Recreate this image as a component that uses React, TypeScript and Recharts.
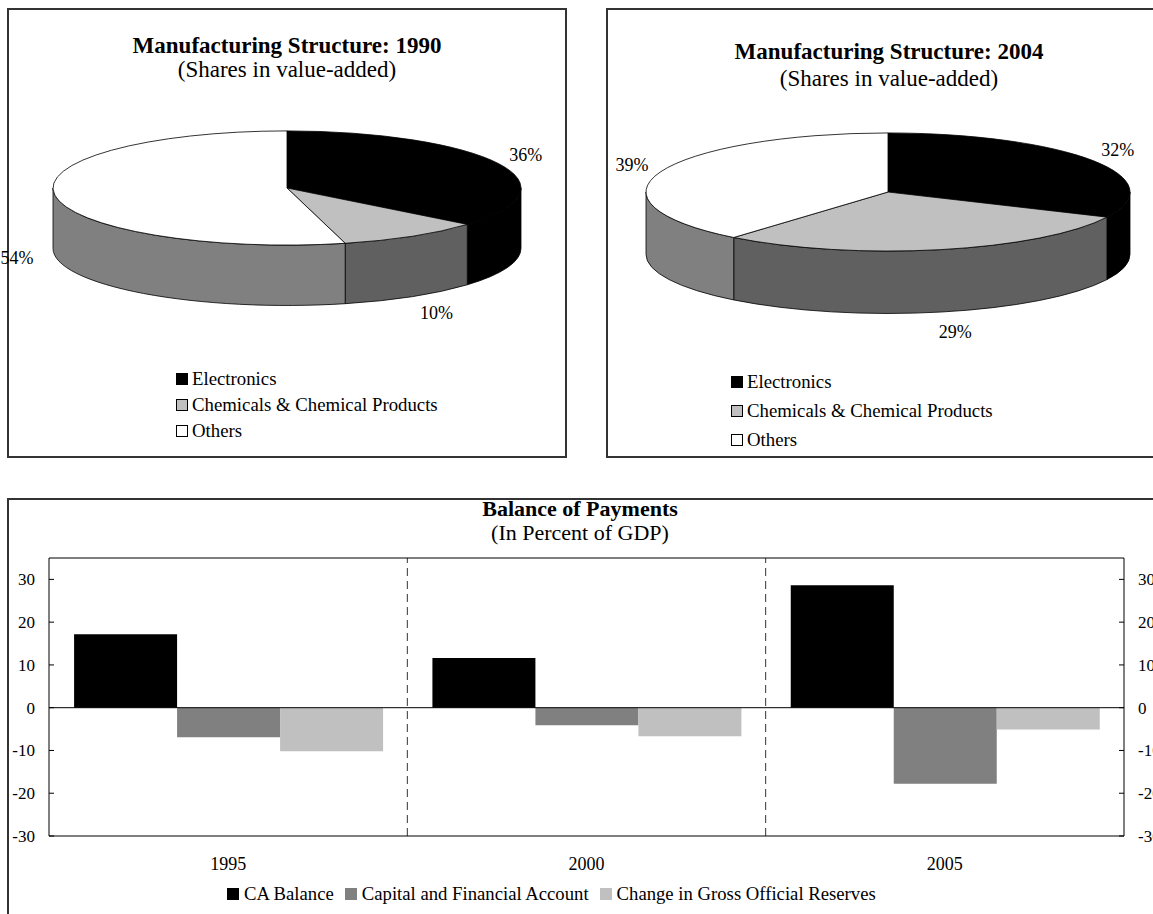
import React from "react";
import { PieChart, Pie, Cell, Legend, BarChart, Bar, XAxis, YAxis, ReferenceLine } from "recharts";

const SERIF = '"Liberation Serif", "Times New Roman", serif';

// manufacturing structure (shares in value-added, %)
const SECTORS = ["Electronics", "Chemicals & Chemical Products", "Others"];
const SHARES_1990 = [36, 10, 54];
const SHARES_2004 = [32, 29, 39];
const TOP_COLORS = ["#000000", "#c0c0c0", "#ffffff"];
const SIDE_COLORS = ["#000000", "#606060", "#808080"];

// balance of payments (% of GDP)
const YEARS = ["1995", "2000", "2005"];
const CA_BALANCE = [17.2, 11.6, 28.6];
const CAPITAL_ACCOUNT = [-6.9, -4.1, -17.8];
const RESERVES_CHANGE = [-10.2, -6.7, -5.1];
const Y_DOMAIN = [-30, 35];
const Y_TICKS = [-30, -20, -10, 0, 10, 20, 30];
const BAR_NAMES = ["CA Balance", "Capital and Financial Account", "Change in Gross Official Reserves"];
const BAR_COLORS = ["#000000", "#808080", "#c0c0c0"];

const TILT = 0.244;
const DEPTH = 0.258;
const RAD = Math.PI / 180;

const ellipsePt = (cx: number, cy: number, rx: number, ry: number, deg: number) => [
  cx + rx * Math.cos(deg * RAD),
  cy - ry * Math.sin(deg * RAD),
];

// parts of [a, b] that lie on the front (lower) half of the ellipse
function frontSpans(a: number, b: number) {
  const out: number[][] = [];
  for (let k = -2; k <= 2; k++) {
    const lo = Math.max(a, -180 + 360 * k);
    const hi = Math.min(b, 360 * k);
    if (hi > lo) out.push([lo, hi]);
  }
  return out;
}

function Slice3D(props: any) {
  const { cx, cy, outerRadius, startAngle, endAngle } = props;
  const idx = props.index ?? SECTORS.indexOf(props.name ?? props.payload?.name);
  const rx = outerRadius;
  const ry = outerRadius * TILT;
  const depth = outerRadius * DEPTH;
  const a = Math.min(startAngle, endAngle);
  const b = Math.max(startAngle, endAngle);

  const walls = frontSpans(a, b).map(([lo, hi], i) => {
    const p1 = ellipsePt(cx, cy, rx, ry, hi);
    const p0 = ellipsePt(cx, cy, rx, ry, lo);
    const d = `M${p1[0]},${p1[1]} A${rx},${ry} 0 0 1 ${p0[0]},${p0[1]} L${p0[0]},${p0[1] + depth} A${rx},${ry} 0 0 0 ${p1[0]},${p1[1] + depth} Z`;
    return <path key={i} d={d} fill={SIDE_COLORS[idx]} stroke="#000" strokeWidth={0.8} strokeLinejoin="round" />;
  });

  const s = ellipsePt(cx, cy, rx, ry, b);
  const e = ellipsePt(cx, cy, rx, ry, a);
  const large = b - a > 180 ? 1 : 0;
  const top = `M${cx},${cy} L${s[0]},${s[1]} A${rx},${ry} 0 ${large} 1 ${e[0]},${e[1]} Z`;

  return (
    <g>
      {walls}
      <path d={top} fill={TOP_COLORS[idx]} stroke="#000" strokeWidth={0.8} strokeLinejoin="round" />
    </g>
  );
}

function renderPct(p: any) {
  const { cx, cy, midAngle, outerRadius, value } = p;
  const ry = outerRadius * TILT;
  const depth = outerRadius * DEPTH;
  const s = Math.sin(midAngle * RAD);
  const c = Math.cos(midAngle * RAD);
  // labels on the front half sit below the wall and a little further out
  const front = s < 0;
  const x = cx + (outerRadius + 30) * c + (front ? 8 * Math.sign(c) : 0);
  const y = cy - (ry + 20) * s + (front ? depth : 0);
  return (
    <text x={x} y={y} textAnchor="middle" dominantBaseline="central" fontSize={18} fill="#000">
      {value}%
    </text>
  );
}

function PieLegend({ payload, rowH }: any) {
  const items = [...(payload || [])].sort((p: any, q: any) => SECTORS.indexOf(p.value) - SECTORS.indexOf(q.value));
  return (
    <div style={{ fontSize: 18.8, color: "#000", whiteSpace: "nowrap" }}>
      {items.map((item: any) => (
        <div key={item.value} style={{ display: "flex", alignItems: "center", height: rowH }}>
          <span
            style={{
              width: 12,
              height: 12,
              boxSizing: "border-box",
              border: "1px solid #000",
              background: item.color,
              marginRight: 4,
            }}
          />
          {item.value}
        </div>
      ))}
    </div>
  );
}

function PiePanel({ values, year, box, chart, titleTop, lineH, legendPos, rowH }: any) {
  const rows = SECTORS.map((name, i) => ({ name, value: values[i] }));
  return (
    <>
      <div
        style={{
          position: "absolute",
          ...box,
          boxSizing: "border-box",
          border: "2px solid #333",
        }}
      />
      <div
        style={{
          position: "absolute",
          left: box.left,
          width: box.width,
          top: titleTop,
          textAlign: "center",
          fontSize: 23,
          lineHeight: lineH + "px",
        }}
      >
        <div style={{ fontWeight: "bold" }}>Manufacturing Structure: {year}</div>
        <div>(Shares in value-added)</div>
      </div>
      <div style={{ position: "absolute", left: chart.left, top: chart.top }}>
        <PieChart width={chart.width} height={chart.height} margin={{ top: 0, right: 0, bottom: 0, left: 0 }}>
          <Pie
            data={rows}
            dataKey="value"
            nameKey="name"
            cx={chart.cx}
            cy={chart.cy}
            outerRadius={chart.r}
            startAngle={90}
            endAngle={-270}
            shape={Slice3D}
            label={renderPct}
            labelLine={false}
            isAnimationActive={false}
          >
            {rows.map((r, i) => (
              <Cell key={r.name} fill={TOP_COLORS[i]} />
            ))}
          </Pie>
          <Legend
            layout="horizontal"
            verticalAlign="bottom"
            content={(p: any) => <PieLegend payload={p.payload} rowH={rowH} />}
            wrapperStyle={{ left: legendPos.left, top: legendPos.top, bottom: "auto", width: "auto" }}
          />
        </PieChart>
      </div>
    </>
  );
}

function BarLegend({ payload }: any) {
  return (
    <div style={{ display: "flex", alignItems: "center", whiteSpace: "nowrap", fontSize: 18.7, lineHeight: "20px", color: "#000" }}>
      {(payload || []).map((item: any) => (
        <span key={item.value} style={{ display: "inline-flex", alignItems: "center", marginRight: 11 }}>
          <span style={{ width: 12, height: 12, background: item.color, marginRight: 5, display: "inline-block" }} />
          {item.value}
        </span>
      ))}
    </div>
  );
}

export default function App() {
  const bopRows = YEARS.map((year, i) => ({
    year,
    ca: CA_BALANCE[i],
    cap: CAPITAL_ACCOUNT[i],
    res: RESERVES_CHANGE[i],
  }));
  const bopKeys = ["ca", "cap", "res"];

  return (
    <div
      style={{
        position: "absolute",
        left: 0,
        top: 0,
        width: 1153,
        height: 914,
        overflow: "hidden",
        background: "#fff",
        fontFamily: SERIF,
        color: "#000",
      }}
    >
      <PiePanel
        values={SHARES_1990}
        year="1990"
        box={{ left: 7, top: 8, width: 560, height: 450 }}
        chart={{ left: 0, top: 100, width: 567, height: 360, cx: 287, cy: 88, r: 234 }}
        titleTop={34}
        lineH={24}
        legendPos={{ left: 176, top: 266 }}
        rowH={26}
      />
      <PiePanel
        values={SHARES_2004}
        year="2004"
        box={{ left: 606, top: 8, width: 566, height: 450 }}
        chart={{ left: 599, top: 100, width: 577, height: 360, cx: 289, cy: 92, r: 242 }}
        titleTop={38}
        lineH={27}
        legendPos={{ left: 132, top: 267 }}
        rowH={29}
      />

      <div
        style={{
          position: "absolute",
          left: 7,
          top: 498,
          width: 1170,
          height: 430,
          boxSizing: "border-box",
          border: "2px solid #333",
        }}
      />
      <div
        style={{
          position: "absolute",
          left: 7,
          width: 1146,
          top: 497,
          textAlign: "center",
          fontSize: 22,
          lineHeight: "24px",
        }}
      >
        <div style={{ fontWeight: "bold" }}>Balance of Payments</div>
        <div>(In Percent of GDP)</div>
      </div>
      <div style={{ position: "absolute", left: 0, top: 540 }}>
        <BarChart
          width={1160}
          height={374}
          data={bopRows}
          margin={{ top: 18, right: 0, bottom: 10, left: 0 }}
          barCategoryGap="7%"
          barGap={0}
        >
          <XAxis
            xAxisId="cat"
            dataKey="year"
            tickLine={false}
            tickSize={0}
            tickMargin={21}
            height={48}
            axisLine={{ stroke: "#000" }}
            tick={{ fill: "#000", fontSize: 18 }}
          />
          <YAxis
            yAxisId="l"
            domain={Y_DOMAIN}
            ticks={Y_TICKS}
            interval={0}
            allowDataOverflow
            width={49}
            tickSize={-5}
            tickMargin={19}
            tickLine={{ stroke: "#000" }}
            axisLine={{ stroke: "#000" }}
            tick={{ fill: "#000", fontSize: 17 }}
          />
          <YAxis
            yAxisId="r"
            orientation="right"
            domain={Y_DOMAIN}
            ticks={Y_TICKS}
            interval={0}
            allowDataOverflow
            width={36}
            tickSize={-5}
            tickMargin={19}
            tickLine={{ stroke: "#000" }}
            axisLine={{ stroke: "#000" }}
            tick={{ fill: "#000", fontSize: 17 }}
          />
          {bopKeys.map((k, i) => (
            <Bar
              key={k}
              xAxisId="cat"
              yAxisId="l"
              dataKey={k}
              name={BAR_NAMES[i]}
              fill={BAR_COLORS[i]}
              isAnimationActive={false}
            />
          ))}
          {/* dashed separators at the end of the first two year bands */}
          {YEARS.slice(0, -1).map((y) => (
            <ReferenceLine key={y} xAxisId="cat" yAxisId="l" x={y} position="end" stroke="#333" strokeDasharray="8 5" />
          ))}
          <ReferenceLine xAxisId="cat" yAxisId="l" y={0} stroke="#000" />
          <ReferenceLine xAxisId="cat" yAxisId="l" y={Y_DOMAIN[1]} stroke="#000" />
          <Legend
            verticalAlign="bottom"
            content={(p: any) => <BarLegend payload={p.payload} />}
            wrapperStyle={{ left: 227, width: "auto" }}
          />
        </BarChart>
      </div>
    </div>
  );
}
